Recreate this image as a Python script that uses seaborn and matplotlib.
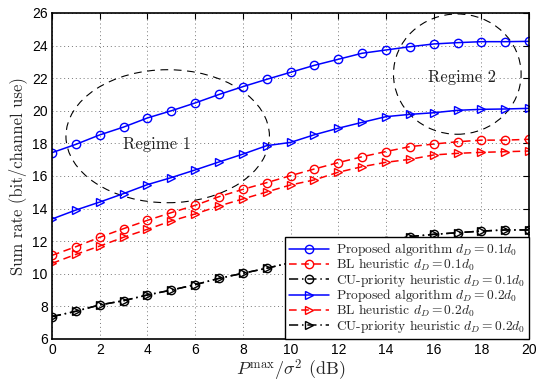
import matplotlib
matplotlib.use("Agg")
import matplotlib.pyplot as plt
from matplotlib.patches import Ellipse
import seaborn as sns
import pandas as pd
import numpy as np

snr_db = list(range(0, 21))

prop_01 = [17.43, 17.94, 18.52, 19.00, 19.56, 20.00, 20.48, 21.00, 21.48, 21.93, 22.36,
           22.79, 23.16, 23.53, 23.73, 23.93, 24.10, 24.18, 24.24, 24.24, 24.26]
bl_01 = [11.13, 11.66, 12.24, 12.77, 13.28, 13.75, 14.20, 14.73, 15.18, 15.59, 16.02,
         16.43, 16.82, 17.18, 17.50, 17.80, 17.96, 18.10, 18.20, 18.20, 18.25]
cu_01 = [7.37, 7.70, 8.09, 8.35, 8.70, 9.00, 9.33, 9.72, 10.03, 10.34, 10.68,
         11.00, 11.35, 11.70, 12.00, 12.28, 12.42, 12.52, 12.62, 12.69, 12.69]
prop_02 = [13.36, 13.91, 14.40, 14.92, 15.47, 15.90, 16.37, 16.86, 17.34, 17.86, 18.06,
           18.53, 18.93, 19.29, 19.64, 19.78, 19.88, 20.03, 20.09, 20.11, 20.15]
bl_02 = [10.64, 11.19, 11.70, 12.24, 12.73, 13.24, 13.67, 14.16, 14.59, 15.02, 15.45,
         15.76, 16.23, 16.57, 16.84, 17.02, 17.29, 17.39, 17.45, 17.49, 17.53]
cu_02 = [7.37, 7.70, 8.09, 8.35, 8.70, 9.00, 9.33, 9.72, 10.03, 10.34, 10.68,
         11.00, 11.35, 11.70, 12.00, 12.28, 12.42, 12.52, 12.62, 12.69, 12.69]

labels = [r"Proposed algorithm $d_D = 0.1d_0$",
          r"BL heuristic $d_D = 0.1d_0$",
          r"CU-priority heuristic $d_D = 0.1d_0$",
          r"Proposed algorithm $d_D = 0.2d_0$",
          r"BL heuristic $d_D = 0.2d_0$",
          r"CU-priority heuristic $d_D = 0.2d_0$"]
series = [prop_01, bl_01, cu_01, prop_02, bl_02, cu_02]
colors = ["#0000ff", "#ff0000", "#000000", "#0000ff", "#ff0000", "#000000"]
styles = ["-", (0, (5, 3)), (0, (6, 2.5, 1, 2.5)), "-", (0, (5, 3)), (0, (6, 2.5, 1, 2.5))]
markers = ["o", "o", "o", ">", ">", ">"]

x_ticks = list(range(0, 21, 2))
y_ticks = list(range(6, 27, 2))

sns.set_style("white")
plt.rcParams["mathtext.fontset"] = "cm"
plt.rcParams["axes.unicode_minus"] = False

fig = plt.figure(figsize=(5.41, 3.82), dpi=100)
ax = fig.add_axes([0.0961, 0.1126, 0.8819, 0.8534])

for lab, vals, c, ls, m in zip(labels, series, colors, styles, markers):
    df = pd.DataFrame({"x": snr_db, "y": vals})
    sns.lineplot(data=df, x="x", y="y", ax=ax, color=c, linestyle=ls, linewidth=1.1,
                 marker=m, markersize=6, markerfacecolor="none", markeredgecolor=c,
                 markeredgewidth=1.0, label=lab)

# Regime ellipses
ax.add_patch(Ellipse((4.85, 18.44), 8.53, 8.16, fill=False, edgecolor="black",
                     linestyle=(0, (7, 5)), linewidth=0.8, zorder=1))
ax.add_patch(Ellipse((16.99, 22.25), 5.35, 7.38, fill=False, edgecolor="black",
                     linestyle=(0, (7, 5)), linewidth=0.8, zorder=1))
ax.text(4.4, 17.96, "Regime 1", fontfamily="cmr10", fontsize=12, ha="center", va="center",
        color="#222222")
ax.text(17.18, 22.03, "Regime 2", fontfamily="cmr10", fontsize=12, ha="center", va="center",
        color="#222222")

ax.set_xlim(0, 20)
ax.set_ylim(6, 26)
ax.set_xticks(x_ticks)
ax.set_yticks(y_ticks)
ax.set_xticklabels([str(t) for t in x_ticks], fontfamily="Liberation Sans", fontsize=10)
ax.set_yticklabels([str(t) for t in y_ticks], fontfamily="Liberation Sans", fontsize=10)
ax.tick_params(direction="in", top=True, right=True, length=4, width=0.8, pad=3, colors="black")
ax.grid(True, linestyle=(0, (1, 3)), color="#777777", linewidth=0.7)
for s in ax.spines.values():
    s.set_color("black")
    s.set_linewidth(1.2)

ax.set_xlabel(r"$P^{\max}/\sigma^2$ (dB)", fontfamily="cmr10", fontsize=13, labelpad=0)
ax.set_ylabel("Sum rate (bit/channel use)", fontfamily="cmr10", fontsize=12, labelpad=4)

leg = ax.legend(loc="lower right", borderaxespad=0.0, fancybox=False, framealpha=1,
                edgecolor="black", handlelength=3.0, handleheight=0.6, labelspacing=-0.1,
                borderpad=0.3, handletextpad=0.5, prop={"family": "cmr10", "size": 9.7})
leg.get_frame().set_linewidth(1.0)

fig.savefig("out.png", dpi=100)
